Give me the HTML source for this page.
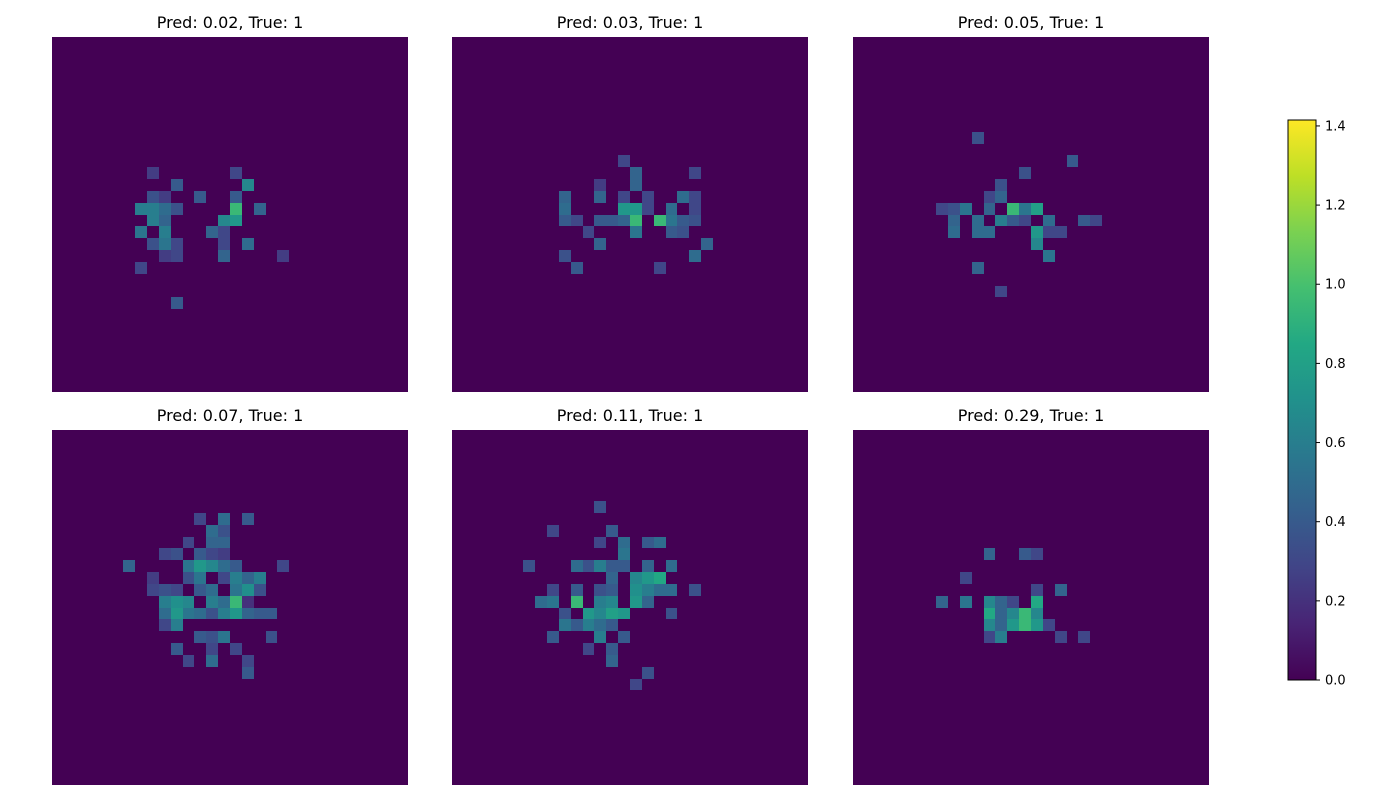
<!DOCTYPE html>
<html><head><meta charset="utf-8"><style>
html,body{margin:0;padding:0;background:#fff;}
svg{display:block;font-family:"DejaVu Sans","Liberation Sans",sans-serif;}
</style></head><body>
<svg id="fig" width="1400" height="800" viewBox="0 0 1400 800" xmlns="http://www.w3.org/2000/svg">
<defs>
<linearGradient id="vir" x1="0" y1="1" x2="0" y2="0">
<stop offset="0" stop-color="#440154"/><stop offset="0.1" stop-color="#482475"/><stop offset="0.2" stop-color="#414487"/><stop offset="0.3" stop-color="#355f8d"/><stop offset="0.4" stop-color="#2a788e"/><stop offset="0.5" stop-color="#21918c"/><stop offset="0.6" stop-color="#22a884"/><stop offset="0.7" stop-color="#44bf70"/><stop offset="0.8" stop-color="#7ad151"/><stop offset="0.9" stop-color="#bddf26"/><stop offset="1" stop-color="#fde725"/>
</linearGradient>
</defs>
</svg>
<script>
const panelTitles = ["Pred: 0.02, True: 1","Pred: 0.03, True: 1","Pred: 0.05, True: 1","Pred: 0.07, True: 1","Pred: 0.11, True: 1","Pred: 0.29, True: 1"];
const colorbarTicks = [0,0.2,0.4,0.6,0.8,1.0,1.2,1.4];
const vMin = 0, vMax = 1.415;
// cells: [row, col, value] on a 30x30 grid
const cells1 = [[11,8,0.25],[11,15,0.3],[12,10,0.4],[12,16,0.65],[13,8,0.35],[13,9,0.25],[13,12,0.4],[13,15,0.4],
[14,7,0.6],[14,8,0.6],[14,9,0.5],[14,10,0.35],[14,15,0.95],[14,17,0.45],[15,8,0.6],[15,9,0.45],[15,14,0.65],[15,15,0.75],
[16,7,0.55],[16,9,0.6],[16,13,0.45],[16,14,0.3],[17,8,0.35],[17,9,0.55],[17,10,0.3],[17,14,0.3],[17,16,0.5],
[18,9,0.25],[18,10,0.3],[18,14,0.45],[18,19,0.25],[19,7,0.3],[22,10,0.4]];
const cells2 = [[10,14,0.3],[11,15,0.45],[11,20,0.3],[12,12,0.25],[12,15,0.45],[13,9,0.45],[13,12,0.45],[13,14,0.3],[13,16,0.3],[13,19,0.5],[13,20,0.3],
[14,9,0.5],[14,14,0.75],[14,15,0.75],[14,16,0.3],[14,18,0.5],[14,20,0.3],
[15,9,0.4],[15,10,0.3],[15,12,0.4],[15,13,0.4],[15,14,0.45],[15,15,0.95],[15,17,0.95],[15,18,0.55],[15,19,0.4],[15,20,0.35],
[16,11,0.3],[16,15,0.55],[16,18,0.4],[16,19,0.35],[17,12,0.45],[17,21,0.45],[18,9,0.35],[18,20,0.5],[19,10,0.4],[19,17,0.3]];
const cells3 = [[8,10,0.35],[10,18,0.4],[11,14,0.35],[12,12,0.35],[13,11,0.3],[13,12,0.45],
[14,7,0.3],[14,8,0.35],[14,9,0.55],[14,11,0.45],[14,13,0.95],[14,14,0.55],[14,15,0.8],
[15,8,0.45],[15,10,0.5],[15,12,0.6],[15,13,0.4],[15,14,0.3],[15,16,0.5],[15,19,0.4],[15,20,0.3],
[16,8,0.5],[16,10,0.5],[16,11,0.5],[16,15,0.75],[16,16,0.3],[16,17,0.3],[17,15,0.65],[18,16,0.55],[19,10,0.45],[21,12,0.3]];
const cells4 = [[7,12,0.3],[7,14,0.5],[7,16,0.4],[8,13,0.5],[8,14,0.35],[9,11,0.3],[9,13,0.45],[9,14,0.45],
[10,9,0.3],[10,10,0.35],[10,12,0.4],[10,13,0.3],[10,14,0.25],
[11,6,0.45],[11,11,0.55],[11,12,0.75],[11,13,0.65],[11,14,0.5],[11,15,0.4],[11,19,0.3],
[12,8,0.25],[12,11,0.35],[12,12,0.55],[12,14,0.3],[12,15,0.6],[12,16,0.45],[12,17,0.6],
[13,8,0.3],[13,9,0.35],[13,10,0.3],[13,12,0.4],[13,13,0.5],[13,15,0.55],[13,16,0.7],[13,17,0.35],
[14,9,0.6],[14,10,0.7],[14,11,0.65],[14,13,0.6],[14,14,0.5],[14,15,0.95],[14,16,0.2],
[15,9,0.5],[15,10,0.75],[15,11,0.55],[15,12,0.5],[15,13,0.35],[15,14,0.6],[15,15,0.75],[15,16,0.45],[15,17,0.4],[15,18,0.4],
[16,9,0.3],[16,10,0.6],[17,12,0.4],[17,13,0.35],[17,14,0.55],[17,18,0.35],[18,10,0.4],[18,13,0.3],[18,15,0.3],
[19,11,0.3],[19,13,0.5],[19,16,0.3],[20,16,0.4]];
const cells5 = [[6,12,0.35],[8,8,0.3],[8,13,0.4],[9,12,0.3],[9,14,0.5],[9,16,0.4],[9,17,0.5],[10,14,0.55],
[11,6,0.35],[11,10,0.5],[11,11,0.35],[11,12,0.6],[11,13,0.4],[11,14,0.4],[11,16,0.45],[11,18,0.5],
[12,13,0.45],[12,15,0.65],[12,16,0.75],[12,17,0.85],
[13,8,0.3],[13,10,0.4],[13,12,0.35],[13,13,0.4],[13,15,0.7],[13,16,0.6],[13,17,0.5],[13,18,0.5],[13,20,0.35],
[14,7,0.5],[14,8,0.55],[14,10,0.95],[14,12,0.6],[14,13,0.65],[14,15,0.75],[14,16,0.45],
[15,9,0.35],[15,11,0.75],[15,12,0.65],[15,13,0.8],[15,14,0.75],[15,18,0.35],
[16,9,0.55],[16,10,0.4],[16,11,0.6],[16,12,0.5],[16,13,0.4],[17,8,0.4],[17,12,0.6],[17,14,0.4],
[18,11,0.3],[18,13,0.4],[19,13,0.45],[20,16,0.35],[21,15,0.3]];
const cells6 = [[10,11,0.45],[10,14,0.4],[10,15,0.3],[12,9,0.3],[13,15,0.3],[13,17,0.45],
[14,7,0.45],[14,9,0.55],[14,11,0.65],[14,12,0.45],[14,13,0.3],[14,15,0.85],
[15,11,0.85],[15,12,0.45],[15,13,0.65],[15,14,0.95],[15,15,0.65],
[16,11,0.65],[16,12,0.45],[16,13,0.75],[16,14,0.95],[16,15,0.75],[16,16,0.3],
[17,11,0.3],[17,12,0.6],[17,17,0.3],[17,19,0.3]];
const allCells = [cells1,cells2,cells3,cells4,cells5,cells6];

const NS = "http://www.w3.org/2000/svg";
const svg = document.getElementById('fig');
const GRID = 30;
const panelX = [52,452,853], panelY = [37,430], panelW = 356, panelH = 355;
const stops = ["#440154","#482475","#414487","#355f8d","#2a788e","#21918c","#22a884","#44bf70","#7ad151","#bddf26","#fde725"];
function hex(h){return [1,3,5].map(i=>parseInt(h.substr(i,2),16));}
function viridis(v){
  let t=Math.max(0,Math.min(1,(v-vMin)/(vMax-vMin)))*10;
  let i=Math.min(9,Math.floor(t)), f=t-i;
  const a=hex(stops[i]), b=hex(stops[i+1]);
  return 'rgb('+a.map((x,k)=>Math.round(x+(b[k]-x)*f)).join(',')+')';
}
function mk(tag,attrs){const e=document.createElementNS(NS,tag);for(const k in attrs)e.setAttribute(k,attrs[k]);return e;}

allCells.forEach((cells,p)=>{
  const px=panelX[p%3], py=panelY[Math.floor(p/3)];
  const g=mk('g',{});
  
  
  svg.appendChild(g);
  const bg=mk('rect',{x:px,y:py,width:panelW,height:panelH,fill:viridis(0)});
  
  
  g.appendChild(bg);
  const cw=panelW/GRID, ch=panelH/GRID;
  cells.forEach(([r,c,v])=>{
    const x0=Math.round(px+c*cw), x1=Math.round(px+(c+1)*cw);
    const y0=Math.round(py+r*ch), y1=Math.round(py+(r+1)*ch);
    const rc=mk('rect',{x:x0,y:y0,width:x1-x0,height:y1-y0,fill:viridis(v)});
    
    
    g.appendChild(rc);
  });
  const t=mk('text',{x:px+panelW/2,y:py-9,'text-anchor':'middle','font-size':'16',fill:'#000'});
  t.textContent=panelTitles[p];
  
  
  svg.appendChild(t);
});

// colorbar
const cbX=1288, cbW=28, cbTop=120, cbBot=680;
function cbY(v){return cbBot-(v-vMin)/(vMax-vMin)*(cbBot-cbTop);}
const cb=mk('rect',{x:cbX,y:cbTop,width:cbW,height:cbBot-cbTop,fill:'url(#vir)',stroke:'#000','stroke-width':1});


svg.appendChild(cb);
colorbarTicks.forEach(v=>{
  const y=cbY(v);
  const l=mk('line',{x1:cbX+cbW,x2:cbX+cbW+4,y1:y,y2:y,stroke:'#000','stroke-width':1});
  
  
  svg.appendChild(l);
  const t=mk('text',{x:cbX+cbW+9,y:y+4.5,'font-size':'13',fill:'#000'});
  t.textContent=v.toFixed(1);
  
  
  svg.appendChild(t);
});
</script>
</body></html>
